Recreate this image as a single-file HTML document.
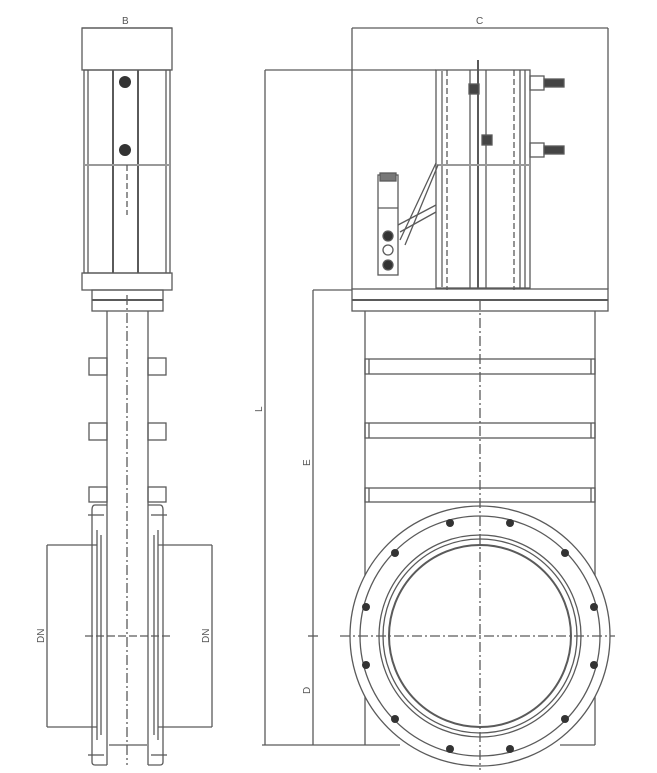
<!DOCTYPE html>
<html><head><meta charset="utf-8"><style>html,body{margin:0;padding:0;background:#fff}svg{display:block}</style></head><body>
<svg width="657" height="773" viewBox="0 0 657 773" xmlns="http://www.w3.org/2000/svg" font-family="Liberation Sans, sans-serif">
<g fill="none" stroke="#5a5a5a" stroke-width="1.3">
<!-- LEFT VIEW -->
<line x1="82" y1="28" x2="172" y2="28"/>
<text x="122" y="24" font-size="10" fill="#555" stroke="none">B</text>
<rect x="82" y="28" width="90" height="42"/>
<rect x="84" y="70" width="86" height="203"/>
<line x1="88" y1="70" x2="88" y2="273"/><line x1="166" y1="70" x2="166" y2="273"/>
<line x1="113" y1="70" x2="113" y2="273" stroke-width="2"/>
<line x1="138" y1="70" x2="138" y2="273" stroke-width="2"/>
<line x1="84" y1="165" x2="170" y2="165" stroke="#999" stroke-width="2"/>
<line x1="127" y1="165" x2="127" y2="215" stroke-dasharray="6,3"/>
<rect x="82" y="273" width="90" height="17"/>
<rect x="92" y="290" width="71" height="21"/>
<line x1="92" y1="300" x2="163" y2="300" stroke-width="2"/>
<line x1="107" y1="311" x2="107" y2="765"/><line x1="148" y1="311" x2="148" y2="765"/>
<line x1="127" y1="295" x2="127" y2="765" stroke-dasharray="10,3,2,3"/>
<rect x="89" y="358" width="18" height="17"/><rect x="148" y="358" width="18" height="17"/>
<rect x="89" y="423" width="18" height="17"/><rect x="148" y="423" width="18" height="17"/>
<rect x="89" y="487" width="18" height="15"/><rect x="148" y="487" width="18" height="15"/>
<path d="M107 505 H95 Q92 505 92 510 V762 Q92 765 95 765 H107"/>
<path d="M148 505 H160 Q163 505 163 510 V762 Q163 765 160 765 H148"/>
<line x1="97" y1="530" x2="97" y2="740"/><line x1="158" y1="530" x2="158" y2="740"/>
<line x1="101" y1="535" x2="101" y2="735"/><line x1="154" y1="535" x2="154" y2="735"/>
<line x1="88" y1="515" x2="104" y2="515"/><line x1="151" y1="515" x2="167" y2="515"/>
<line x1="88" y1="755" x2="104" y2="755"/><line x1="151" y1="755" x2="167" y2="755"/>
<line x1="109" y1="745" x2="147" y2="745"/>
<line x1="47" y1="545" x2="97" y2="545"/><line x1="47" y1="727" x2="97" y2="727"/>
<line x1="47" y1="545" x2="47" y2="727"/>
<line x1="158" y1="545" x2="212" y2="545"/><line x1="158" y1="727" x2="212" y2="727"/>
<line x1="212" y1="545" x2="212" y2="727"/>
<line x1="85" y1="636" x2="170" y2="636" stroke-dasharray="8,3"/>
<text x="0" y="0" font-size="10" fill="#555" stroke="none" transform="translate(44,643) rotate(-90)">DN</text>
<text x="0" y="0" font-size="10" fill="#555" stroke="none" transform="translate(209,643) rotate(-90)">DN</text>
<!-- RIGHT VIEW -->
<line x1="352" y1="28" x2="608" y2="28"/>
<text x="476" y="24" font-size="10" fill="#555" stroke="none">C</text>
<line x1="352" y1="28" x2="352" y2="289"/><line x1="608" y1="28" x2="608" y2="289"/>
<line x1="265" y1="70" x2="436" y2="70"/>
<line x1="265" y1="70" x2="265" y2="745"/>
<text x="0" y="0" font-size="10" fill="#555" stroke="none" transform="translate(262,412) rotate(-90)">L</text>
<line x1="313" y1="290" x2="352" y2="290"/>
<line x1="313" y1="290" x2="313" y2="745"/>
<line x1="308" y1="636" x2="318" y2="636"/>
<text x="0" y="0" font-size="10" fill="#555" stroke="none" transform="translate(310,466) rotate(-90)">E</text>
<text x="0" y="0" font-size="10" fill="#555" stroke="none" transform="translate(310,694) rotate(-90)">D</text>
<line x1="262" y1="745" x2="365" y2="745"/>
<rect x="436" y="70" width="94" height="218"/>
<line x1="442" y1="70" x2="442" y2="288" stroke="#999" stroke-width="2"/>
<line x1="447" y1="70" x2="447" y2="290" stroke-dasharray="6,3"/>
<line x1="470" y1="70" x2="470" y2="288"/>
<line x1="478" y1="60" x2="478" y2="288" stroke-width="2"/>
<line x1="486" y1="70" x2="486" y2="288"/>
<line x1="514" y1="70" x2="514" y2="290" stroke-dasharray="6,3"/>
<line x1="520" y1="70" x2="520" y2="288"/><line x1="525" y1="70" x2="525" y2="288"/>
<line x1="436" y1="165" x2="530" y2="165" stroke="#999" stroke-width="2"/>
<rect x="530" y="76" width="14" height="14"/><rect x="544" y="79" width="20" height="8" fill="#444"/>
<rect x="530" y="143" width="14" height="14"/><rect x="544" y="146" width="20" height="8" fill="#444"/>
<rect x="469" y="84" width="10" height="10" fill="#444"/><rect x="482" y="135" width="10" height="10" fill="#444"/>
<rect x="378" y="175" width="20" height="100"/>
<rect x="380" y="173" width="16" height="8" fill="#777"/>
<line x1="378" y1="208" x2="398" y2="208"/>
<circle cx="388" cy="236" r="5" fill="#333"/><circle cx="388" cy="250" r="5"/><circle cx="388" cy="265" r="5" fill="#333"/>
<line x1="398" y1="225" x2="436" y2="205"/><line x1="400" y1="232" x2="436" y2="212"/>
<line x1="400" y1="240" x2="436" y2="163"/><line x1="405" y1="245" x2="438" y2="165"/>
<rect x="352" y="289" width="256" height="22"/>
<line x1="352" y1="300" x2="608" y2="300" stroke-width="2"/>
<line x1="365" y1="311" x2="365" y2="745"/><line x1="595" y1="311" x2="595" y2="745"/>
<line x1="365" y1="745" x2="400" y2="745"/><line x1="560" y1="745" x2="595" y2="745"/>
<rect x="365" y="359" width="230" height="15"/><rect x="365" y="423" width="230" height="15"/><rect x="365" y="488" width="230" height="14"/>
<line x1="369" y1="359" x2="369" y2="374"/><line x1="591" y1="359" x2="591" y2="374"/>
<line x1="369" y1="423" x2="369" y2="438"/><line x1="591" y1="423" x2="591" y2="438"/>
<line x1="369" y1="488" x2="369" y2="502"/><line x1="591" y1="488" x2="591" y2="502"/>
<circle cx="480" cy="636" r="130" fill="#fff"/>
<circle cx="480" cy="636" r="120"/>
<circle cx="480" cy="636" r="101"/><circle cx="480" cy="636" r="97"/><circle cx="480" cy="636" r="91" stroke-width="2"/>
<line x1="480" y1="300" x2="480" y2="770" stroke-dasharray="10,3,2,3"/>
<line x1="340" y1="636" x2="615" y2="636" stroke-dasharray="10,3,2,3"/>
</g>
<g fill="#333">
<circle cx="125" cy="82" r="6"/><circle cx="125" cy="150" r="6"/>
<circle cx="450" cy="523" r="4"/><circle cx="510" cy="523" r="4"/>
<circle cx="395" cy="553" r="4"/><circle cx="565" cy="553" r="4"/>
<circle cx="366" cy="607" r="4"/><circle cx="594" cy="607" r="4"/>
<circle cx="366" cy="665" r="4"/><circle cx="594" cy="665" r="4"/>
<circle cx="395" cy="719" r="4"/><circle cx="565" cy="719" r="4"/>
<circle cx="450" cy="749" r="4"/><circle cx="510" cy="749" r="4"/>
</g>
</svg>
</body></html>
